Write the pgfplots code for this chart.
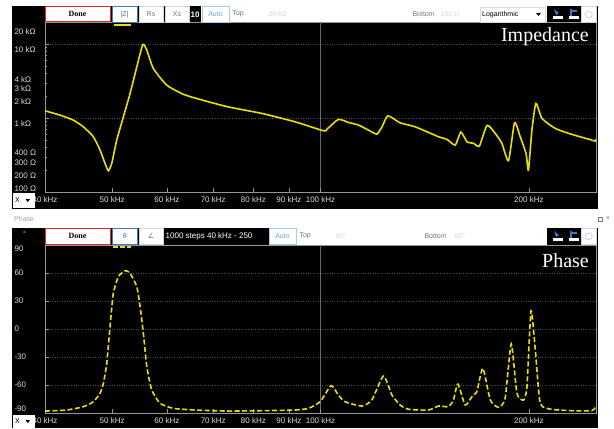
\documentclass[border=0pt]{standalone}
\usepackage{fontspec}
\setmainfont{Liberation Sans}
\newfontfamily\serifont{Liberation Serif}
\newfontfamily\dejavu{DejaVu Sans}
\usepackage{pgfplots}
\usepackage{pgfplotstable}
\pgfplotsset{compat=1.18}
\definecolor{yel}{RGB}{232,224,0}
\definecolor{gridc}{RGB}{75,75,75}
\definecolor{axc}{RGB}{150,150,150}
\definecolor{vgrid}{RGB}{105,105,105}
\definecolor{lbl}{RGB}{220,220,220}
\definecolor{btnblue}{RGB}{60,120,200}
\definecolor{lightblue}{RGB}{160,205,240}
\definecolor{redb}{RGB}{225,40,40}
\definecolor{faint}{RGB}{215,215,215}
\definecolor{uigray}{RGB}{120,120,120}
\newcommand{\ui}{\fontsize{8bp}{9bp}\selectfont}
\newcommand{\uis}{\fontsize{7bp}{8bp}\selectfont}

\pgfplotstableread{
f Z
40 1255
42.05 1098
43.95 940
45.44 763
46.98 559
48.03 370
48.84 244
49.38 194
49.94 244
50.78 504
51.91 1041
53.08 2157
54.28 4935
55.38 9906
56.12 8297
57.36 4696
59.98 2792
63.38 2100
67.0 1789
73.5 1421
82.29 1157
91.9 891
101.0 674
102.1 704
106.1 960
109.7 875
113.5 804
117.3 688
120.6 608
122.7 763
125.1 1074
130.3 864
137.0 763
148.1 559
152.3 515
156.5 432
159.5 647
162.8 478
166.4 455
169.6 418
174.0 797
178.8 621
182.8 455
186.9 265
190.7 864
194.3 559
198.1 333
199.7 198
202.0 688
204.7 1580
208.9 991
218.3 726
230.8 602
246.6 504
249.4 489
250 515
}\impdata

\pgfplotstableread{
f P
40 -87.9
43.0 -86.8
45.44 -83.2
46.98 -77.9
48.03 -68.9
48.57 -58.2
49.12 -36.7
49.66 2.5
50.20 38.2
51.05 56.0
52.20 62.5
53.08 59.7
54.28 45.3
54.88 23.9
55.48 -4.6
56.12 -40.4
57.06 -65.4
58.65 -79.6
61.30 -85.0
65.9 -86.8
73.6 -87.9
82.29 -87.5
91.9 -86.8
96.07 -85.0
99.88 -77.9
103.6 -60.7
106.1 -70.7
108.5 -77.9
114.7 -82.5
118.6 -76.1
123.3 -50.4
126.8 -70.7
130.3 -81.4
134.0 -86.0
143.2 -86.8
148.1 -82.5
153.0 -83.2
155.6 -76.1
157.9 -59.0
161.8 -81.4
165.5 -72.5
168.2 -67.2
171.6 -42.1
175.9 -76.1
180.8 -83.9
184.8 -74.2
188.6 -16.1
192.2 -68.9
196.5 -76.1
198.7 -61.8
201.4 19.6
204.3 -22.5
207.7 -79.6
215.9 -86.0
230.8 -87.5
246.6 -87.5
249.4 -83.9
}\phdata

\begin{document}
\begin{tikzpicture}
\begin{scope}[shift={(0bp,428bp)},x=1bp,y=-1bp]
\fill[white] (0,0) rectangle (614,428);
\fill[black] (12,6) rectangle (598,209);
\fill[black] (12,228) rectangle (598,428);
\end{scope}

% Impedance
\begin{axis}[at={(45bp,236bp)}, anchor=south west, scale only axis,
  width=551bp, height=170bp,
  xmode=log, ymode=log, xmin=40, xmax=250, ymin=100, ymax=20000,
  axis background/.style={fill=black},
  axis line style={axc, line width=0.6bp},
  tick align=inside, xtick pos=bottom, ytick pos=left,
  major tick length=4bp, minor tick length=2bp,
  tick style={axc, line width=0.5bp},
  xtick={40,50,60,70,80,90,100,200},
  xticklabels={40 kHz,50 kHz,60 kHz,70 kHz,80 kHz,90 kHz,100 kHz,200 kHz},
  xticklabel style={font=\ui, text=lbl, yshift=-1.5bp},
  ytick={1000,10000},
  yticklabels={1 kΩ,10 kΩ},
  yticklabel style={font=\ui, text=lbl, anchor=west, xshift=-34bp, yshift=-5.5bp},
  ymajorgrids, major grid style={gridc, dotted, line width=0.7bp},
  extra y ticks={200,300,400,2000,3000,4000},
  extra y tick labels={200 Ω,300 Ω,400 Ω,2 kΩ,3 kΩ,4 kΩ},
  extra y tick style={ymajorgrids=false, major tick length=2bp},
  minor ytick={500,600,700,800,900,5000,6000,7000,8000,9000},
  extra x ticks={100}, extra x tick labels={},
  extra x tick style={xmajorgrids=true, major grid style={vgrid, solid, line width=0.6bp}},
]
\addplot[yel, line width=1.6bp, smooth, tension=0.35] table[x=f,y=Z] {\impdata};
\end{axis}

% Phase
\begin{axis}[at={(45bp,15bp)}, anchor=south west, scale only axis,
  width=551bp, height=168bp,
  xmode=log, xmin=40, xmax=250, ymin=-90, ymax=90,
  axis background/.style={fill=black},
  axis line style={axc, line width=0.6bp},
  tick align=inside, xtick pos=bottom, ytick pos=left,
  major tick length=4bp, minor tick length=2bp,
  tick style={axc, line width=0.5bp},
  xtick={40,50,60,70,80,90,100,200},
  xticklabels={40 kHz,50 kHz,60 kHz,70 kHz,80 kHz,90 kHz,100 kHz,200 kHz},
  xticklabel style={font=\ui, text=lbl, yshift=-1.5bp},
  ytick={-60,-30,0,30,60},
  yticklabels={-60,-30,0,30,60},
  yticklabel style={font=\ui, text=lbl, anchor=west, xshift=-34bp},
  ymajorgrids, major grid style={gridc, dotted, line width=0.7bp},
  extra x ticks={100}, extra x tick labels={},
  extra x tick style={xmajorgrids=true, major grid style={vgrid, solid, line width=0.6bp}},
]
\addplot[yel, line width=1.6bp, dash pattern=on 5bp off 2.5bp, smooth, tension=0.35] table[x=f,y=P] {\phdata};
\end{axis}

\begin{scope}[shift={(0bp,428bp)},x=1bp,y=-1bp]
% end tick labels
\node[font=\ui, text=lbl, anchor=west] at (11,32) {20 kΩ};
\node[font=\ui, text=lbl, anchor=west] at (11,188.5) {100 Ω};
\node[font=\ui, text=lbl, anchor=west] at (11,249) {90};
\node[font=\ui, text=lbl, anchor=west] at (11,409) {-90};
% ---------- top toolbar
\fill[white] (201,0) rectangle (547,22.5);
\fill[white] (0,0) rectangle (614,6);
\draw[redb, line width=1bp, fill=white] (45.5,6.5) rectangle (110,22);
\node[font=\serifont\bfseries\fontsize{8bp}{9bp}\selectfont] at (77.5,14.3) {Done};
\draw[btnblue, line width=0.8bp, fill=white] (112,6.5) rectangle (137,22);
\node[font=\uis, text=btnblue] at (124.5,14.3) {|Z|};
\draw[faint, line width=0.6bp, fill=white] (139,6.5) rectangle (163,22);
\node[font=\uis, text=uigray] at (151,14.3) {Rs};
\draw[faint, line width=0.6bp, fill=white] (165,6.5) rectangle (189,22);
\node[font=\uis, text=uigray] at (177,14.3) {Xs};
\node[font=\ui\bfseries, text=white, anchor=west, inner sep=0] at (190.5,14.3) {10};
\draw[lightblue, line width=0.8bp, fill=white] (202,6.5) rectangle (229,22);
\node[font=\uis, text=btnblue!70] at (215.5,14.3) {Auto};
\node[font=\uis, text=uigray, anchor=west] at (229,14.3) {Top};
\node[font=\uis, text=faint, anchor=west] at (265,14.3) {20 kΩ};
\node[font=\uis, text=uigray, anchor=west] at (409,14.3) {Bottom};
\node[font=\uis, text=faint, anchor=west] at (437,14.3) {100 Ω};
\draw[faint, line width=0.5bp, fill=white] (480,7) rectangle (545,22);
\node[font=\uis, anchor=west, inner sep=1bp] at (481,14.5) {Logarithmic};
\fill (536,13) -- (541,13) -- (538.5,16) -- cycle;
\fill[black] (547,6) rectangle (581,22.5);
\fill[btnblue] (554,9) -- (559,13) -- (556,15) -- cycle;
\fill[white] (553,16) rectangle (563,19);
\fill[btnblue] (570,9) rectangle (572,16);
\fill[btnblue] (572,10) rectangle (577,12);
\fill[white] (569,16) rectangle (579,19);
\draw[faint, fill=white] (581.5,6.5) rectangle (596,22);
\draw[btnblue!60, line width=0.6bp, dash pattern=on 1bp off 0.8bp] (588.75,14.3) circle (3.5);
\draw[yel, line width=1.6bp] (114,25) -- (131,25);
\node[font=\serifont\fontsize{20bp}{24bp}\selectfont, text=white, anchor=base east, inner sep=0] at (589,41.5) {Impedance};
% X box top
\fill[white] (13,193) rectangle (35,208);
\node[font=\uis, anchor=west, inner sep=0] at (15,200.5) {X};
\fill (25.5,199) -- (30,199) -- (27.75,202) -- cycle;

% ---------- bottom header
\node[font=\uis, text=uigray!70, anchor=west, inner sep=0] at (14,219) {Phase};
\draw[uigray, line width=0.6bp] (598,217) rectangle (602,221);
\node[font=\uis, text=uigray, inner sep=0] at (608,219) {×};
% bottom toolbar
\fill[white] (297,228) rectangle (547,245);
\draw[redb, line width=1bp, fill=white] (45.5,228.5) rectangle (110,244);
\node[font=\serifont\bfseries\fontsize{8bp}{9bp}\selectfont] at (77.5,236.3) {Done};
\draw[btnblue, line width=0.8bp, fill=white] (112,228.5) rectangle (137,244);
\node[font=\uis\itshape, text=btnblue] at (124.5,236.3) {θ};
\draw[faint, line width=0.6bp, fill=white] (139,228.5) rectangle (163,244);
\node[font=\dejavu\fontsize{7bp}{8bp}\selectfont, text=uigray] at (151,236.3) {∠};
\node[font=\ui, text=white, anchor=west, inner sep=0] at (165.5,236.3) {1000 steps 40 kHz - 250};
\draw[lightblue, line width=0.8bp, fill=white] (269,228.5) rectangle (296,244);
\node[font=\uis, text=btnblue!70] at (282.5,236.3) {Auto};
\node[font=\uis, text=uigray, anchor=west] at (296,236.3) {Top};
\node[font=\uis, text=faint, anchor=west] at (332,236.3) {90°};
\node[font=\uis, text=uigray, anchor=west] at (421,236.3) {Bottom};
\node[font=\uis, text=faint, anchor=west] at (449,236.3) {-90°};
\fill[black] (547,228) rectangle (581,245);
\fill[btnblue] (554,231) -- (559,235) -- (556,237) -- cycle;
\fill[white] (553,238) rectangle (563,241);
\fill[btnblue] (570,231) rectangle (572,238);
\fill[btnblue] (572,232) rectangle (577,234);
\fill[white] (569,238) rectangle (579,241);
\draw[faint, fill=white] (581.5,228.5) rectangle (596,244);
\draw[btnblue!60, line width=0.6bp, dash pattern=on 1bp off 0.8bp] (588.75,236.3) circle (3.5);
\node[font=\uis, text=lbl, inner sep=0] at (24.5,234) {°};
\draw[yel, line width=1.6bp, dash pattern=on 5bp off 2bp] (113,247) -- (131,247);
\node[font=\serifont\fontsize{20bp}{24bp}\selectfont, text=white, anchor=base east, inner sep=0] at (589,267.3) {Phase};
% X box bottom
\fill[white] (13,415) rectangle (35,428);
\node[font=\uis, anchor=west, inner sep=0] at (15,421.5) {X};
\fill (25.5,420) -- (30,420) -- (27.75,423) -- cycle;
\end{scope}
\end{tikzpicture}
\end{document}
